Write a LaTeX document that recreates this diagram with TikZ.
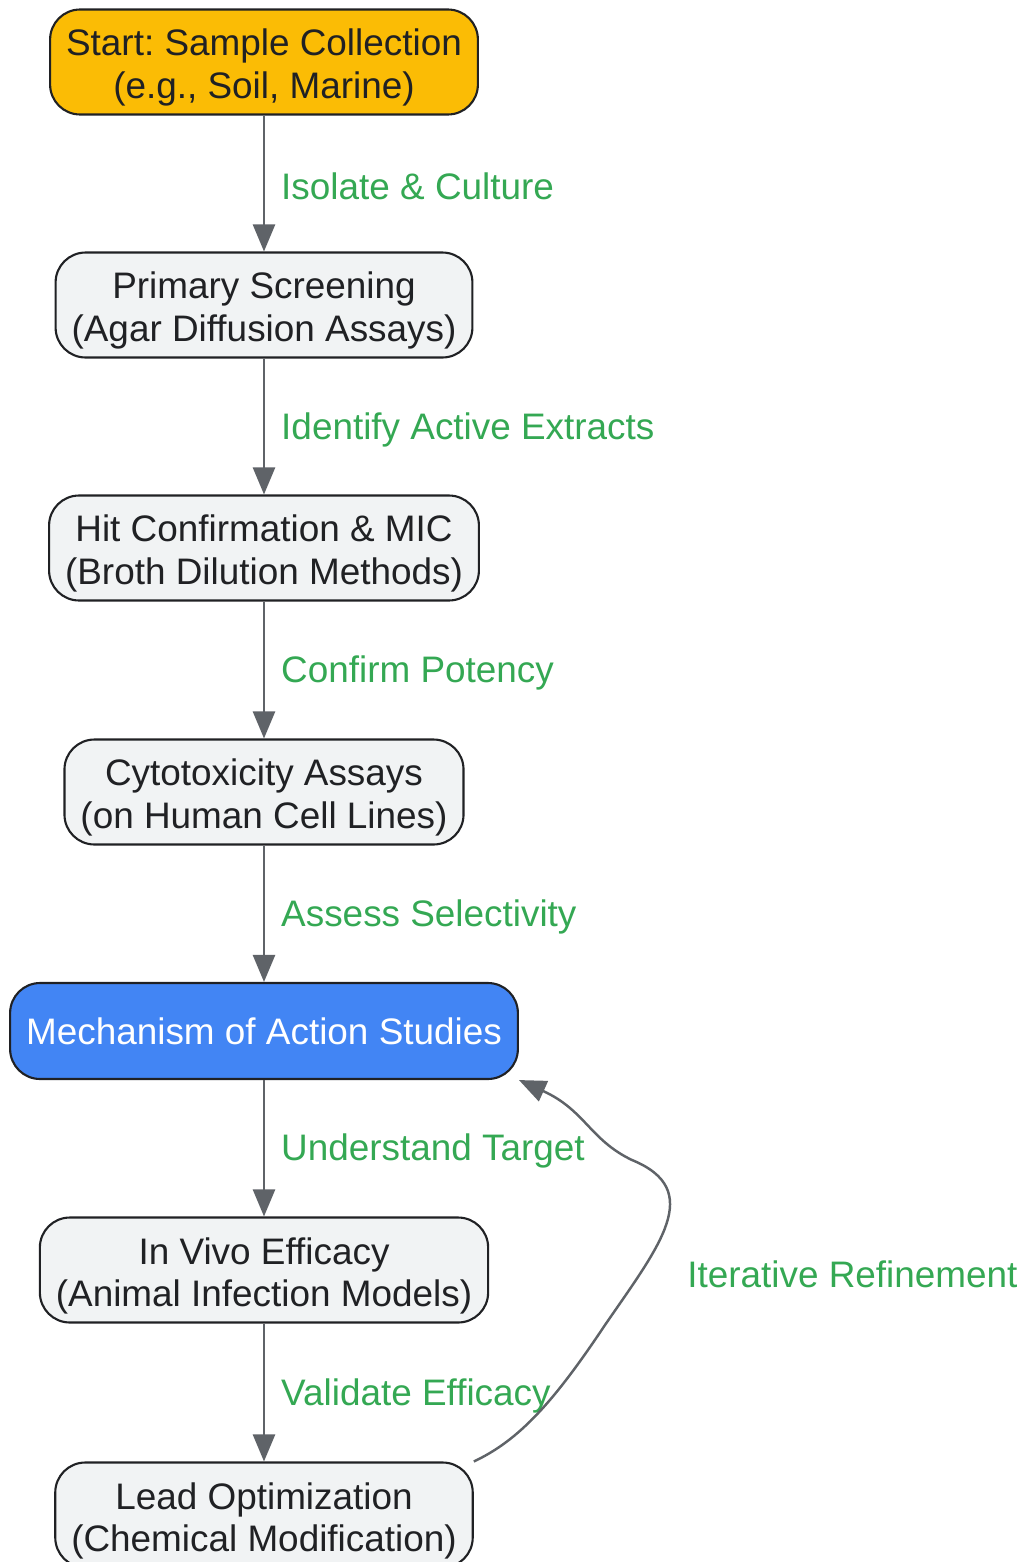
\documentclass[tikz,border=0pt]{standalone}
\usepackage{fontspec}
\setmainfont{Liberation Sans}
\usepackage{tikz}
\usetikzlibrary{arrows.meta}
\frenchspacing
\definecolor{startYellow}{HTML}{FBBC05}
\definecolor{moaBlue}{HTML}{4285F4}
\definecolor{boxGray}{HTML}{F1F3F4}
\definecolor{lineDark}{HTML}{202124}
\definecolor{arrowGray}{HTML}{5F6368}
\definecolor{labelGreen}{HTML}{34A853}
\newcommand{\topstrut}{\rule{0pt}{21.5pt}} % pushes two-line text down a little
\tikzset{
box/.style = {rectangle, rounded corners=0.6cm, draw=lineDark, line width=1.2pt,
              fill=boxGray, text=lineDark, align=center,
              inner xsep=0.32cm, minimum height=#1,
              font=\fontsize{21}{24}\selectfont},
box/.default = 2.1cm % height of the box
}
\tikzset{
link/.style = {draw=arrowGray, line width=1.4pt,
               -{Triangle[length=0.54cm, width=0.44cm]}}
}
\tikzset{
lbl/.style = {text=labelGreen, inner sep=0pt, yshift=-0.06cm,
              font=\fontsize{21}{24}\selectfont}
}

\begin{document}
\begin{tikzpicture}[x=0.02cm, y=-0.02cm]
    \useasboundingbox (0,0) rectangle (1022,1562);

    \node[box, fill=startYellow] (startBox) at (264,62) {\topstrut Start: Sample Collection\\(e.g., Soil, Marine)};
    \node[box] (primBox) at (264,305) {\topstrut Primary Screening\\(Agar Diffusion Assays)};
    \node[box] (hitBox) at (264,548) {\topstrut Hit Confirmation \& MIC\\(Broth Dilution Methods)};
    \node[box] (cytoBox) at (264,792) {\topstrut Cytotoxicity Assays\\(on Human Cell Lines)};
    \node[box=1.92cm, fill=moaBlue, text=white] (moaBox) at (264,1031) {Mechanism of Action Studies};
    \node[box] (vivoBox) at (264,1270) {\topstrut In Vivo Efficacy\\(Animal Infection Models)};
    \node[box] (leadBox) at (264,1515) {\topstrut Lead Optimization\\(Chemical Modification)};

    \draw[link] (startBox) -- node[lbl, right=0.32cm]{Isolate \& Culture} (primBox);
    \draw[link] (primBox) -- node[lbl, right=0.32cm]{Identify Active Extracts} (hitBox);
    \draw[link] (hitBox) -- node[lbl, right=0.32cm]{Confirm Potency} (cytoBox);
    \draw[link] (cytoBox) -- node[lbl, right=0.32cm]{Assess Selectivity} (moaBox);
    \draw[link] (moaBox) -- node[lbl, right=0.32cm]{Understand Target} (vivoBox);
    \draw[link] (vivoBox) -- node[lbl, right=0.32cm]{Validate Efficacy} (leadBox);

    \draw[link] (leadBox.north east) .. controls (520,1440) and (555,1400) .. (605,1325)
        .. controls (660,1245) and (705,1190) .. (632,1160)
        .. controls (590,1140) and (585,1110) .. (moaBox.south east);
    \node[lbl, anchor=west] (iterLbl) at (687,1271) {Iterative Refinement};
  \end{tikzpicture}
\end{document}
